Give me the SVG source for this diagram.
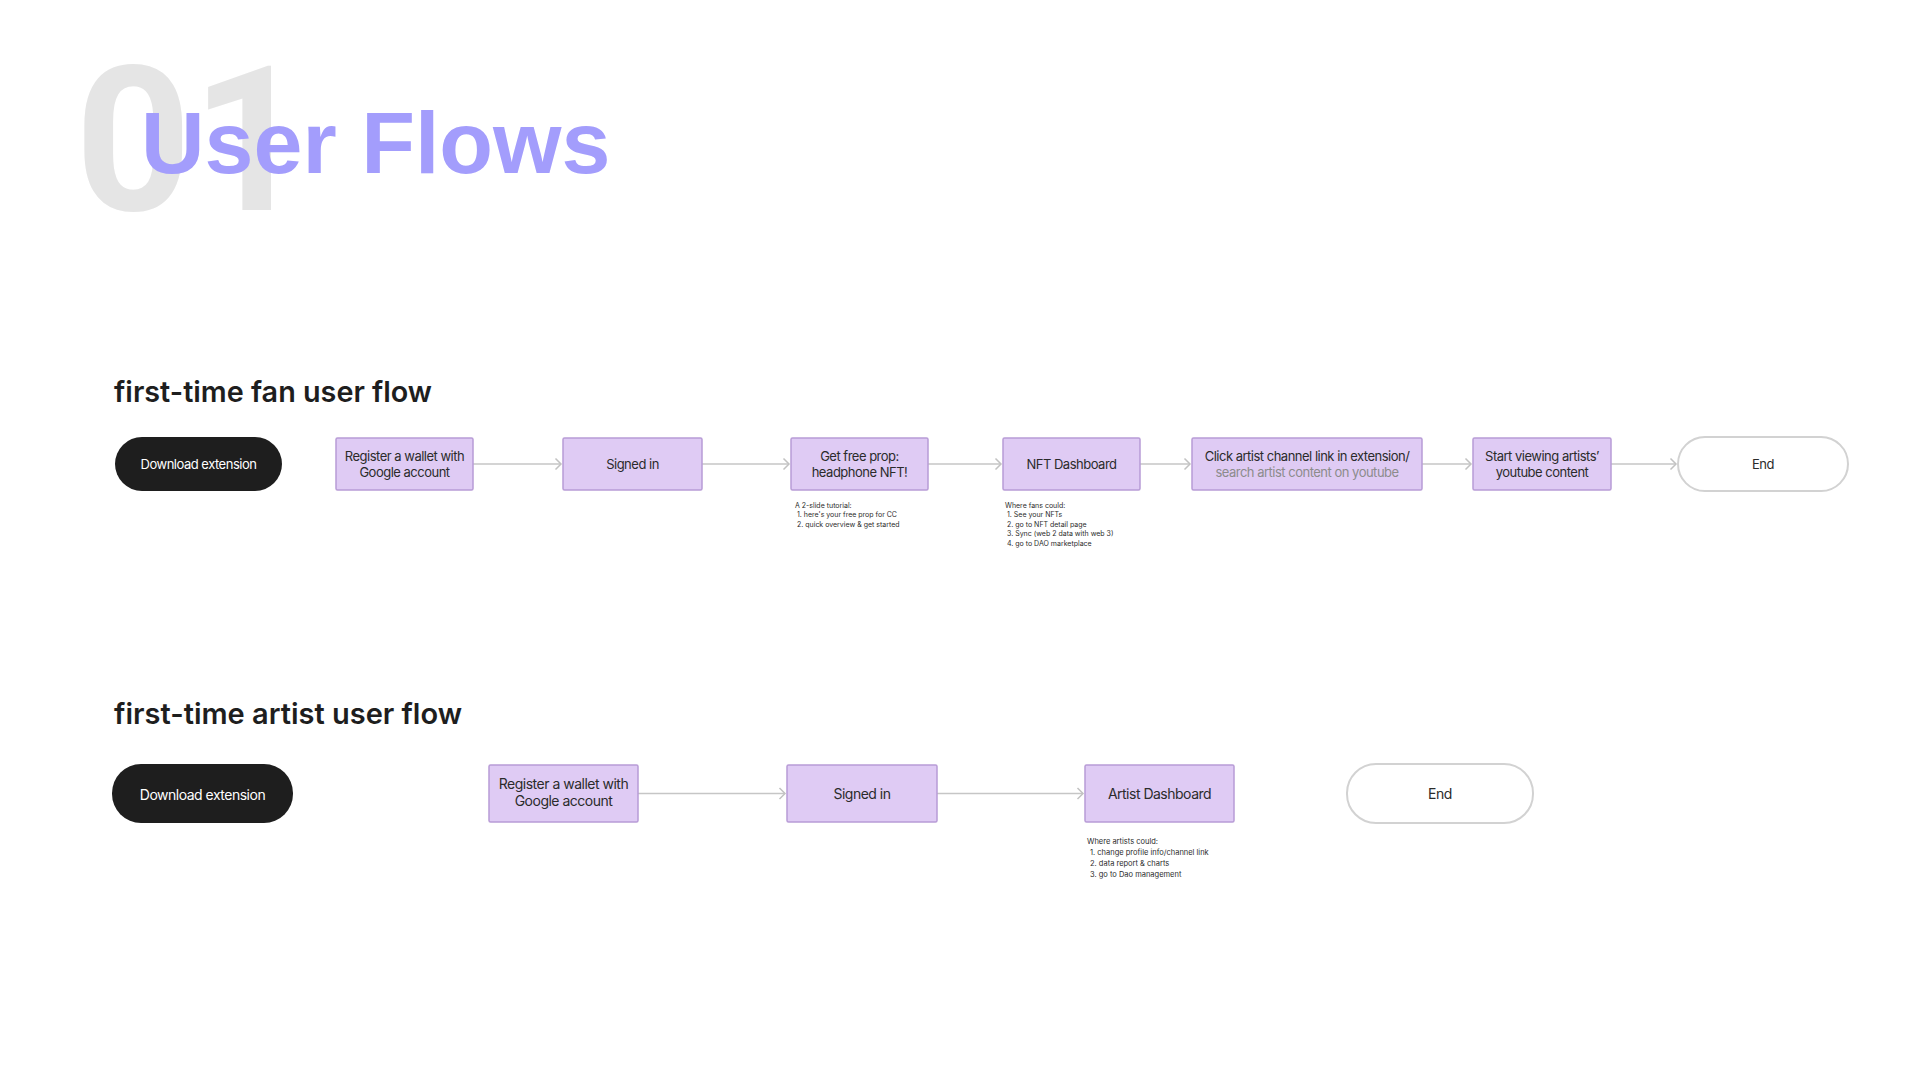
<svg xmlns="http://www.w3.org/2000/svg" width="1920" height="1080" viewBox="0 0 1920 1080">
<defs>
<marker id="chev" markerUnits="userSpaceOnUse" markerWidth="10" markerHeight="14" refX="7" refY="7" orient="auto" overflow="visible">
<path d="M1.5,1.5 L7,7 L1.5,12.5" fill="none" stroke="#c2c2c2" stroke-width="1.5" stroke-linejoin="miter"/>
</marker>
</defs>
<style>
.bg{fill:#ffffff}
.num{font-family:Roboto,"Liberation Sans",sans-serif;font-weight:700;font-size:203px;fill:#e5e5e5}
.title{font-family:"Liberation Sans",Arial,sans-serif;font-weight:700;font-size:88px;fill:#a39dfc}
.h2{font-family:Inter,"Liberation Sans",sans-serif;font-weight:600;font-size:29px;fill:#1e1e1e}
.start{fill:#1e1e1e}
.startT{font-family:Inter,"Liberation Sans",sans-serif;font-size:13px;letter-spacing:-0.5px;fill:#ffffff;text-anchor:middle}
.box{fill:#dfcbf4;stroke:#b89cd6;stroke-width:1.5}
.boxT{font-family:Inter,"Liberation Sans",sans-serif;font-size:13px;letter-spacing:-0.5px;fill:#2b2b2b;text-anchor:middle}
.big{font-size:14px}
.grey{fill:#8c8c8c}
.end{fill:#ffffff;stroke:#d2d2d2;stroke-width:2}
.note{font-family:Inter,"Liberation Sans",sans-serif;font-size:7px;fill:#2b2b2b}
.note2{font-size:7.5px}
.conn{fill:none;stroke:#c6c6c6;stroke-width:1.5;marker-end:url(#chev)}
</style>
<rect class="bg" x="0" y="0" width="1920" height="1080"/>

<g id="title">
<text class="num" x="75" y="210">01</text>
<text class="title" x="141" y="173">User Flows</text>
</g>

<g id="heading-fan"><text class="h2" x="114" y="402" textLength="318" lengthAdjust="spacingAndGlyphs">first-time fan user flow</text></g>
<g id="heading-artist"><text class="h2" x="114" y="724" textLength="348" lengthAdjust="spacingAndGlyphs">first-time artist user flow</text></g>

<g id="connectors">
<line class="conn" x1="473" y1="464" x2="561" y2="464"/>
<line class="conn" x1="702" y1="464" x2="789" y2="464"/>
<line class="conn" x1="928" y1="464" x2="1001" y2="464"/>
<line class="conn" x1="1140" y1="464" x2="1190" y2="464"/>
<line class="conn" x1="1422" y1="464" x2="1471" y2="464"/>
<line class="conn" x1="1611" y1="464" x2="1676" y2="464"/>
<line class="conn" x1="638" y1="793.5" x2="785" y2="793.5"/>
<line class="conn" x1="937" y1="793.5" x2="1083" y2="793.5"/>
</g>

<g id="fan-download">
<rect class="start" x="115" y="437" width="167" height="54" rx="27"/>
<text class="startT" x="198.5" y="468.5">Download extension</text>
</g>
<g id="fan-register">
<rect class="box" x="336" y="438" width="137" height="52" rx="1.5"/>
<text class="boxT" x="404.5" y="461">Register a wallet with</text>
<text class="boxT" x="404.5" y="477">Google account</text>
</g>
<g id="fan-signed">
<rect class="box" x="563" y="438" width="139" height="52" rx="1.5"/>
<text class="boxT" x="632.5" y="468.5">Signed in</text>
</g>
<g id="fan-freeprop">
<rect class="box" x="791" y="438" width="137" height="52" rx="1.5"/>
<text class="boxT" x="859.5" y="461">Get free prop:</text>
<text class="boxT" x="859.5" y="477">headphone NFT!</text>
</g>
<g id="fan-freeprop-note">
<text class="note" x="795" y="507.5">A 2-slide tutorial:</text>
<text class="note" x="797" y="517">1. here's your free prop for CC</text>
<text class="note" x="797" y="526.5">2. quick overview &amp; get started</text>
</g>
<g id="fan-nft">
<rect class="box" x="1003" y="438" width="137" height="52" rx="1.5"/>
<text class="boxT" x="1071.5" y="468.5">NFT Dashboard</text>
</g>
<g id="fan-nft-note">
<text class="note" x="1005" y="507.5">Where fans could:</text>
<text class="note" x="1007" y="517">1. See your NFTs</text>
<text class="note" x="1007" y="526.5">2. go to NFT detail page</text>
<text class="note" x="1007" y="536">3. Sync (web 2 data with web 3)</text>
<text class="note" x="1007" y="545.5">4. go to DAO marketplace</text>
</g>
<g id="fan-click">
<rect class="box" x="1192" y="438" width="230" height="52" rx="1.5"/>
<text class="boxT" x="1307" y="461">Click artist channel link in extension/</text>
<text class="boxT grey" x="1307" y="477">search artist content on youtube</text>
</g>
<g id="fan-start">
<rect class="box" x="1473" y="438" width="138" height="52" rx="1.5"/>
<text class="boxT" x="1542" y="461">Start viewing artists’</text>
<text class="boxT" x="1542" y="477">youtube content</text>
</g>
<g id="fan-end">
<rect class="end" x="1678" y="437" width="170" height="54" rx="27"/>
<text class="boxT" x="1763" y="468.5">End</text>
</g>

<g id="artist-download">
<rect class="start" x="112" y="764" width="181" height="59" rx="29"/>
<text class="startT big" x="202.5" y="799.5">Download extension</text>
</g>
<g id="artist-register">
<rect class="box" x="489" y="765" width="149" height="57" rx="1.5"/>
<text class="boxT big" x="563.5" y="789">Register a wallet with</text>
<text class="boxT big" x="563.5" y="806">Google account</text>
</g>
<g id="artist-signed">
<rect class="box" x="787" y="765" width="150" height="57" rx="1.5"/>
<text class="boxT big" x="862" y="799">Signed in</text>
</g>
<g id="artist-dashboard">
<rect class="box" x="1085" y="765" width="149" height="57" rx="1.5"/>
<text class="boxT big" x="1159.5" y="799">Artist Dashboard</text>
</g>
<g id="artist-dashboard-note">
<text class="note note2" x="1087" y="844">Where artists could:</text>
<text class="note note2" x="1090" y="855">1. change profile info/channel link</text>
<text class="note note2" x="1090" y="866">2. data report &amp; charts</text>
<text class="note note2" x="1090" y="877">3. go to Dao management</text>
</g>
<g id="artist-end">
<rect class="end" x="1347" y="764" width="186" height="59" rx="29"/>
<text class="boxT big" x="1440" y="799">End</text>
</g>
</svg>
